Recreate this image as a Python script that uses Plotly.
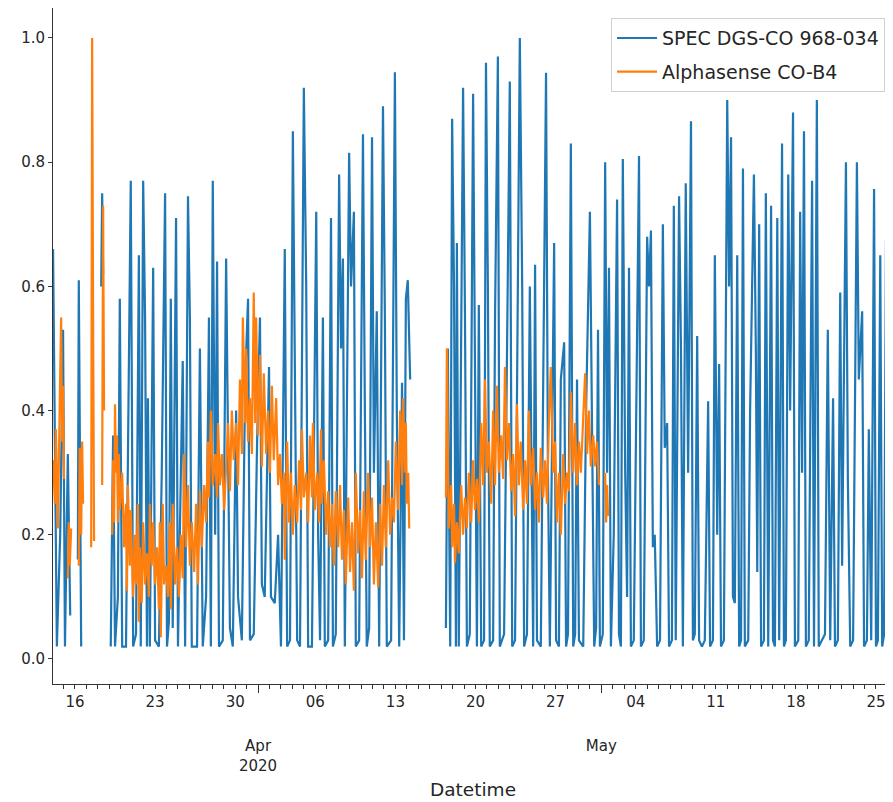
import pandas as pd
import plotly.graph_objects as go

# ---------------- data (hours after 2020-03-14 00:00, normalised values) ----------------
base_time = pd.Timestamp("2020-03-14 00:00")

spec_hours = [
    2, 6, 10, 17, 23, 27, 33, 38, 44,
    54, 56, 61, 80,
    103, 105, 107, 115,
    123, 128, 132, 138, 142, 147, 155, 161, 165, 170,
    176, 182, 186, 191, 195, 199, 201, 205, 212, 216,
    224, 230, 237, 241, 245, 249, 253, 260, 264, 274,
    279, 285, 289, 293, 304, 310, 316, 323, 329, 333,
    337, 342, 346, 350, 358, 365, 369, 373, 379, 386,
    390, 398, 405, 411, 415, 423, 430, 436, 440, 446,
    455, 459, 467, 474, 480, 488, 493, 499, 505, 509,
    514, 520, 528, 533, 537, 545, 554, 558, 562, 568,
    572, 579, 585, 589, 595, 602, 606, 610, 614, 623,
    627, 633, 637, 644, 652, 656, 660, 665, 671, 675,
    681, 686, 694, 698, 702, 711, 719, 723, 728, 734,
    738, 742, 746, 751, 760,
    826, 830, 835, 839, 843, 847, 849, 853, 862, 866,
    870, 876, 883, 887, 891, 895, 900, 906, 910, 914,
    918, 925, 929, 935, 939, 948, 954, 960, 965, 971,
    981, 986, 990, 996, 1002, 1009, 1013, 1017, 1025, 1030,
    1036, 1040, 1044, 1053, 1057, 1063, 1067, 1074, 1078, 1082,
    1088, 1093, 1097, 1101, 1105, 1114, 1120, 1128, 1132, 1137,
    1141, 1145, 1149, 1155, 1160, 1164, 1168, 1172, 1178, 1185,
    1189, 1193, 1197, 1202, 1206, 1210, 1214, 1220, 1231, 1235,
    1241, 1248, 1252, 1256, 1260, 1264, 1269, 1275, 1281, 1285,
    1290, 1294, 1300, 1304, 1308, 1315, 1319, 1323, 1329, 1334,
    1340, 1344, 1348, 1353, 1357, 1363, 1369, 1376, 1380, 1386,
    1390, 1395, 1399, 1403, 1409, 1416, 1420, 1424, 1428, 1432,
    1437, 1441, 1445, 1449, 1453, 1460, 1464, 1472, 1476, 1479,
    1483, 1487, 1493, 1497, 1502, 1508, 1512, 1516, 1521, 1525,
    1531, 1535, 1539, 1544, 1548, 1554, 1558, 1565, 1569, 1573,
    1577, 1581, 1587, 1594, 1598, 1604, 1608, 1615, 1621, 1627,
    1632, 1638, 1642, 1648, 1653, 1657, 1665, 1669, 1674, 1680,
    1688, 1692, 1699, 1703, 1709, 1713, 1718, 1724, 1728, 1732,
    1737, 1741, 1745, 1749, 1753, 1758, 1762, 1766, 1772,
]
spec_values = [
    .66, .30, .02, .20, .53, .02, .33, .07, None,
    .16, .61, .02, None,
    .60, .75, .62, None,
    .02, .36, .02, .10, .58, .02, .02, .45, .77, .02,
    .04, .65, .02, .77, .55, .02, .42, .02, .63, .03,
    .02, .30, .75, .02, .06, .58, .05, .71, .02, .48,
    .02, .745, .55, .02, .02, .50, .02, .10, .55, .02,
    .77, .20, .64, .02, .03, .645, .35, .05, .02, .40,
    .10, .03, .45, .58, .03, .04, .35, .55, .12, .10,
    .47, .10, .09, .20, .02, .66, .02, .03, .85, .45,
    .03, .02, .92, .60, .02, .02, .72, .20, .03, .55,
    .02, .03, .71, .02, .04, .78, .50, .645, .02, .815,
    .60, .72, .02, .03, .845, .40, .02, .05, .84, .30,
    .56, .02, .89, .55, .02, .03, .945, .40, .02, .445,
    .03, .58, .61, .45, None,
    .05, .50, .02, .87, .60, .02, .67, .02, .92, .55,
    .02, .04, .91, .50, .02, .57, .02, .03, .96, .60,
    .02, .03, .55, .97, .02, .04, .55, .93, .02, .03,
    1.0, .60, .02, .04, .60, .02, .635, .03, .02, .50,
    .944, .30, .02, .67, .03, .02, .45, .51, .02, .04,
    .83, .02, .04, .45, .03, .02, .40, .72, .35, .02,
    .05, .53, .02, .04, .80, .30, .63, .02, .20, .74,
    .04, .02, .805, .30, .10, .63, .02, .03, .81, .02,
    .03, .68, .60, .69, .18, .20, .02, .03, .70, .34,
    .38, .02, .03, .73, .03, .745, .50, .02, .766, .30,
    .866, .03, .04, .52, .03, .02, .03, .415, .02, .03,
    .65, .20, .475, .02, .03, .90, .60, .84, .10, .09,
    .65, .02, .03, .79, .02, .03, .40, .78, .50, .14,
    .70, .02, .03, .75, .02, .73, .03, .02, .71, .03,
    .83, .02, .03, .78, .40, .88, .02, .03, .72, .30,
    .85, .02, .03, .77, .02, .90, .02, .03, .04, .53,
    .03, .42, .02, .03, .59, .15, .80, .29, .02, .03,
    .80, .45, .56, .02, .03, .37, .03, .757, .02, .03,
    .65, .02, .04, .675, .02, .03, .77, .40, .02,
]

alpha_hours = [
    2, 6, 8, 12, 17, 19, 21, 23, 25, 29,
    33, 35, 37, 40, 48,
    56, 58, 61, 63, 65, 74,
    82, 84, 86, 88, 96,
    105, 107, 109, 117,
    126, 128, 130, 132, 134, 136, 138, 140, 142, 147,
    151, 155, 157, 159, 163, 165, 170, 174, 176, 180,
    182, 184, 188, 191, 195, 199, 203, 205, 209, 212,
    216, 220, 224, 226, 228, 232, 235, 239, 243, 247,
    249, 253, 258, 262, 266, 270, 274, 277, 281, 285,
    289, 293, 298, 302, 306, 310, 314, 319, 323, 327,
    329, 333, 337, 342, 346, 348, 352, 356, 361, 365,
    369, 373, 377, 381, 386, 390, 394, 398, 400, 405,
    407, 411, 415, 419, 423, 426, 428, 432, 436, 440,
    444, 449, 453, 457, 461, 465, 470, 474, 478, 482,
    486, 488, 493, 497, 501, 505, 509, 514, 518, 522,
    524, 528, 533, 537, 541, 545, 547, 551, 556, 560,
    564, 566, 570, 575, 579, 583, 587, 591, 595, 600,
    604, 608, 612, 616, 621, 625, 629, 633, 637, 642,
    646, 650, 654, 658, 663, 667, 671, 675, 679, 684,
    688, 692, 696, 700, 705, 709, 713, 717, 721, 726,
    730, 734, 736, 740, 742, 744, 747, 749, 758,
    826, 828, 830, 832, 837, 839, 843, 845, 849, 853,
    858, 862, 866, 870, 874, 879, 883, 887, 891, 895,
    900, 904, 908, 912, 916, 921, 925, 929, 933, 937,
    942, 946, 950, 954, 958, 963, 967, 971, 975, 979,
    983, 988, 992, 996, 1000, 1004, 1009, 1013, 1017, 1021,
    1025, 1030, 1034, 1038, 1042, 1046, 1051, 1055, 1059, 1063,
    1067, 1072, 1076, 1080, 1084, 1088, 1093, 1097, 1101, 1105,
    1109, 1114, 1118, 1122, 1126, 1130, 1135, 1139, 1143, 1147,
    1153, 1160, 1162, 1164, 1166,
]
alpha_values = [
    .32, .25, .37, .21, .46, .55, .35, .44, .29, None,
    .13, .22, .15, .21, None,
    .15, .34, .20, .35, .25, None,
    .18, 1.0, .55, .19, None,
    .28, .73, .40, None,
    .20, .32, .22, .41, .30, .36, .22, .33, .24, .30,
    .18, .25, .11, .28, .15, .24, .10, .20, .12, .25,
    .06, .18, .09, .22, .12, .17, .10, .25, .15, .22,
    .12, .18, .08, .22, .035, .25, .12, .15, .10, .22,
    .08, .25, .12, .18, .10, .20, .13, .33, .18, .28,
    .15, .22, .14, .25, .12, .27, .18, .28, .22, .35,
    .26, .40, .28, .33, .26, .38, .28, .33, .24, .30,
    .38, .27, .40, .32, .38, .28, .45, .33, .55, .38,
    .50, .35, .42, .33, .59, .38, .55, .36, .49, .31,
    .46, .33, .40, .30, .44, .32, .42, .28, .33, .25,
    .30, .16, .35, .22, .30, .20, .28, .22, .32, .24,
    .37, .26, .30, .22, .36, .26, .38, .24, .30, .22,
    .37, .25, .32, .20, .27, .18, .25, .15, .27, .18,
    .28, .16, .24, .12, .26, .14, .22, .11, .30, .17,
    .24, .13, .27, .16, .30, .18, .26, .12, .22, .115,
    .25, .15, .28, .18, .32, .20, .26, .22, .35, .24,
    .40, .28, .42, .30, .38, .25, .30, .21, None,
    .26, .50, .35, .21, .28, .18, .25, .155, .22, .17,
    .28, .20, .26, .21, .30, .22, .32, .24, .29, .22,
    .38, .28, .45, .30, .35, .25, .40, .28, .44, .30,
    .36, .29, .47, .32, .38, .27, .33, .23, .41, .28,
    .35, .24, .32, .25, .40, .28, .34, .24, .30, .22,
    .34, .26, .32, .25, .38, .47, .30, .35, .22, .30,
    .20, .33, .25, .30, .27, .43, .30, .38, .28, .35,
    .30, .40, .46, .33, .40, .31, .36, .31, .35, .28,
    None, .30, .22, .28, .23,
]

week_tick_dates = ["2020-03-16", "2020-03-23", "2020-03-30", "2020-04-06", "2020-04-13",
                   "2020-04-20", "2020-04-27", "2020-05-04", "2020-05-11", "2020-05-18",
                   "2020-05-25"]
week_tick_labels = ["16", "23", "30", "06", "13", "20", "27", "04", "11", "18", "25"]
month_tick_dates = ["2020-04-01", "2020-05-01"]
month_tick_labels = ["Apr<br>2020", "May"]

series_names = ["SPEC DGS-CO 968-034", "Alphasense CO-B4"]
x_start_hours = 1.9
x_end_hours = 1763.7

# ---------------- figure ----------------
spec_time = base_time + pd.to_timedelta(spec_hours, unit="h")
alpha_time = base_time + pd.to_timedelta(alpha_hours, unit="h")
x_range = [base_time + pd.Timedelta(hours=x_start_hours), base_time + pd.Timedelta(hours=x_end_hours)]

FONT = "DejaVu Sans"
TXT = "#262626"

fig = go.Figure()
fig.add_trace(go.Scatter(x=spec_time, y=spec_values, mode="lines", name=series_names[0],
                         legendgroup="a", line=dict(color="#1f77b4", width=2.2)))
fig.add_trace(go.Scatter(x=alpha_time, y=alpha_values, mode="lines", name=series_names[1],
                         legendgroup="b", line=dict(color="#ff7f0e", width=2.2)))
# invisible helper trace on the overlay axis carrying month ticks
fig.add_trace(go.Scatter(x=[x_range[0]], y=[None], xaxis="x2", showlegend=False,
                         hoverinfo="skip", mode="lines"))

fig.update_layout(
    width=885, height=794,
    margin=dict(l=45, r=0, t=0, b=118),
    paper_bgcolor="white", plot_bgcolor="white",
    font=dict(family=FONT, color=TXT),
    showlegend=True,
    legend=dict(x=0.9905, y=0.985, xanchor="right", yanchor="top",
                bgcolor="rgba(255,255,255,0.85)", bordercolor="#d0d0d0", borderwidth=1,
                font=dict(size=19, family=FONT, color=TXT), tracegroupgap=6,
                itemwidth=40),
    xaxis=dict(range=x_range, type="date", showgrid=False, zeroline=False,
               showline=True, linecolor="#333333", linewidth=1, mirror=True,
               ticks="outside", ticklen=4, tickcolor="#333333",
               tickmode="array", tickvals=week_tick_dates, ticktext=week_tick_labels,
               tickfont=dict(size=15, family=FONT, color=TXT),
               minor=dict(dtick=86400000, tick0="2020-03-14", ticks="outside",
                          ticklen=4, tickcolor="#333333", showgrid=False)),
    xaxis2=dict(range=x_range, type="date", overlaying="x", anchor="y", side="bottom",
                showgrid=False, zeroline=False, showline=False,
                ticks="outside", ticklen=8, tickcolor="#333333",
                tickmode="array", tickvals=month_tick_dates, ticktext=month_tick_labels,
                tickfont=dict(size=15, family=FONT, color=TXT), ticklabelstandoff=40),
    yaxis=dict(range=[-0.0403, 1.0483], showgrid=False, zeroline=False,
               showline=True, linecolor="#333333", linewidth=1,
               ticks="outside", ticklen=4, tickcolor="#333333",
               tickvals=[0, 0.2, 0.4, 0.6, 0.8, 1.0], tickformat=".1f",
               tickfont=dict(size=15, family=FONT, color=TXT)),
    annotations=[dict(text="Datetime", xref="paper", yref="paper", x=0.5, y=-0.156,
                      xanchor="center", yanchor="middle", showarrow=False,
                      font=dict(size=18.5, family=FONT, color=TXT))],
)

fig.write_html("out.html")
